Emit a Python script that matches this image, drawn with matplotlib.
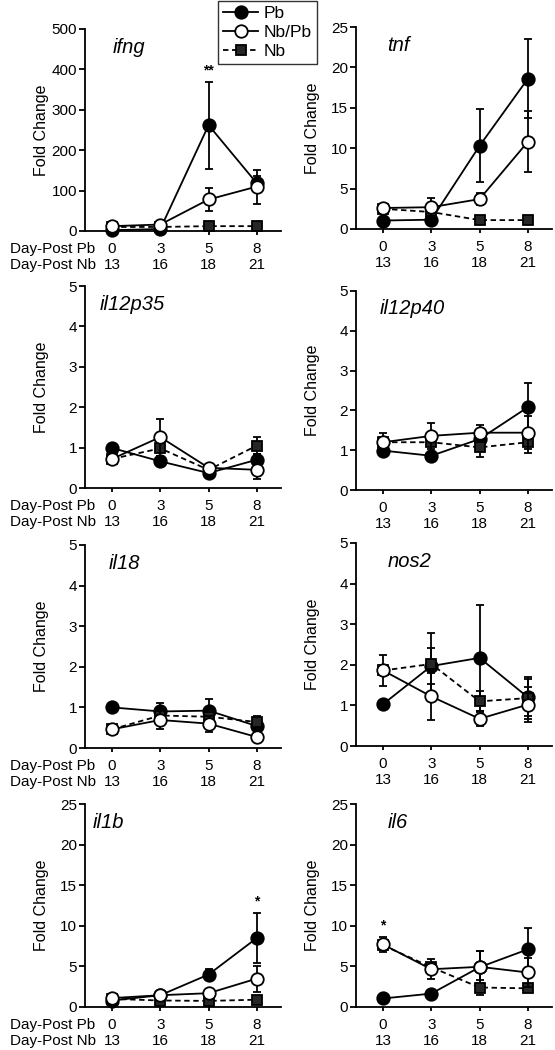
import matplotlib.pyplot as plt
from matplotlib.lines import Line2D

plt.rcParams['font.family'] = ['Liberation Sans', 'DejaVu Sans']

# x categories
days_pb = ['0', '3', '5', '8']
days_nb = ['13', '16', '18', '21']
groups = ['Pb', 'Nb/Pb', 'Nb']
genes = ['ifng', 'tnf', 'il12p35', 'il12p40', 'il18', 'nos2', 'il1b', 'il6']
ymax = [500, 25, 5, 5, 5, 5, 25, 25]

# means / SEM, rows = Pb, Nb/Pb, Nb
ifng_mean = [[2, 5, 262, 118], [12, 16, 78, 110], [10, 10, 12, 12]]
ifng_err = [[1, 2, 108, 18], [3, 3, 29, 42], [2, 2, 3, 3]]
tnf_mean = [[1.05, 1.15, 10.3, 18.6], [2.6, 2.7, 3.7, 10.8], [2.5, 2.1, 1.1, 1.1]]
tnf_err = [[0.2, 0.2, 4.5, 4.9], [0.3, 1.1, 0.7, 3.8], [0.2, 0.3, 0.3, 0.5]]
il12p35_mean = [[0.99, 0.66, 0.37, 0.70], [0.72, 1.26, 0.50, 0.45], [0.72, 0.98, 0.45, 1.05]]
il12p35_err = [[0.05, 0.06, 0.05, 0.15], [0.12, 0.46, 0.10, 0.22], [0.05, 0.08, 0.05, 0.21]]
il12p40_mean = [[0.99, 0.86, 1.28, 2.08], [1.20, 1.36, 1.44, 1.44], [1.20, 1.20, 1.07, 1.20]]
il12p40_err = [[0.05, 0.08, 0.10, 0.62], [0.22, 0.33, 0.20, 0.42], [0.10, 0.10, 0.24, 0.27]]
il18_mean = [[1.0, 0.90, 0.92, 0.54], [0.46, 0.69, 0.60, 0.27], [0.46, 0.80, 0.77, 0.64]]
il18_err = [[0.04, 0.22, 0.28, 0.20], [0.04, 0.23, 0.20, 0.04], [0.04, 0.10, 0.10, 0.15]]
nos2_mean = [[1.03, 1.97, 2.17, 1.20], [1.86, 1.22, 0.67, 1.02], [1.86, 2.02, 1.10, 1.18]]
nos2_err = [[0.04, 0.45, 1.30, 0.45], [0.37, 0.58, 0.17, 0.43], [0.10, 0.76, 0.25, 0.52]]
il1b_mean = [[0.8, 1.45, 4.0, 8.5], [1.1, 1.45, 1.7, 3.5], [1.0, 0.8, 0.75, 0.9]]
il1b_err = [[0.2, 0.2, 0.7, 3.1], [0.3, 0.3, 0.4, 1.6], [0.1, 0.1, 0.1, 0.2]]
il6_mean = [[1.05, 1.65, 4.9, 7.1], [7.7, 4.65, 4.95, 4.25], [7.6, 4.9, 2.4, 2.3]]
il6_err = [[0.2, 0.3, 2.0, 2.6], [0.95, 1.2, 2.0, 1.8], [0.5, 0.4, 0.95, 0.3]]

means = [ifng_mean, tnf_mean, il12p35_mean, il12p40_mean, il18_mean, nos2_mean, il1b_mean, il6_mean]
errs = [ifng_err, tnf_err, il12p35_err, il12p40_err, il18_err, nos2_err, il1b_err, il6_err]

# significance marks: (panel, group, day index, text)
stars = [(0, 0, 2, '**'), (6, 0, 3, '*'), (7, 1, 0, '*')]

W, H = 555, 1050
fig = plt.figure(figsize=(W / 100, H / 100), dpi=100)

col_x = [85, 356]
ax_w = 196
row_px = [(29, 231), (27, 229), (286, 488), (291, 490), (545, 748), (543, 746), (804, 1007), (804, 1007)]
title_x = [0.14, 0.16, 0.075, 0.12, 0.12, 0.16, 0.04, 0.16]

styles = [
    dict(marker='o', mfc='black', ms=9, ls='-', zorder=2),
    dict(marker='o', mfc='white', ms=9, ls='-', zorder=4),
    dict(marker='s', mfc='#262626', ms=7, ls=(0, (3, 2)), zorder=3),
]

xs = list(range(len(days_pb)))
axes = []
for i, gene in enumerate(genes):
    top, bot = row_px[i]
    x0 = col_x[i % 2]
    ax = fig.add_axes([x0 / W, 1 - bot / H, ax_w / W, (bot - top) / H])
    axes.append(ax)
    for g in range(3):
        st = styles[g]
        ax.errorbar(xs, means[i][g], yerr=errs[i][g], color='black', lw=1.3,
                    marker=st['marker'], mfc=st['mfc'], mec='black', mew=1.3,
                    ms=st['ms'], ls=st['ls'], elinewidth=1.3, capsize=2.6,
                    capthick=1.3, zorder=st['zorder'], clip_on=False)
    ax.set_xlim(-0.56, 3.5)
    ax.set_ylim(0, ymax[i])
    ax.set_yticks(range(0, ymax[i] + 1, ymax[i] // 5))
    ax.set_xticks(xs)
    ax.set_xticklabels([a + '\n' + b for a, b in zip(days_pb, days_nb)])
    for s in ['top', 'right']:
        ax.spines[s].set_visible(False)
    for s in ['left', 'bottom']:
        ax.spines[s].set_linewidth(1.3)
    ax.tick_params(axis='x', length=3, width=1.3, pad=5, labelsize=11)
    ax.tick_params(axis='y', length=4, width=1.3, pad=1.8, labelsize=11)
    ax.set_ylabel('Fold Change', fontsize=11.5, va='center')
    ax.yaxis.set_label_coords(-0.22, 0.5)
    ax.text(title_x[i], 0.91, gene, transform=ax.transAxes, style='italic',
            fontsize=14.5, ha='left', va='center')
    if i % 2 == 0:
        ax.annotate('Day-Post Pb\nDay-Post Nb', xy=(0, 0), xycoords='axes fraction',
                    xytext=(-54, -8), textcoords='offset points',
                    ha='left', va='top', fontsize=11)

for p, g, d, txt in stars:
    ax = axes[p]
    ax.annotate(txt, xy=(d, means[p][g][d] + errs[p][g][d]), xytext=(0, 3),
                textcoords='offset points', ha='center', va='bottom',
                fontsize=10, fontweight='bold')

handles = []
for g in range(3):
    st = styles[g]
    handles.append(Line2D([], [], color='black', lw=1.3, marker=st['marker'],
                          mfc=st['mfc'], mec='black', mew=1.3, ms=st['ms'], ls=st['ls']))
leg = fig.legend(handles, groups, loc='upper left', bbox_to_anchor=(218 / W, 1 - 1 / H),
                 fontsize=12.5, frameon=True, fancybox=False, edgecolor='black',
                 handlelength=2.0, handletextpad=0.35, labelspacing=0.2,
                 borderpad=0.3, borderaxespad=0)
leg.get_frame().set_linewidth(1.0)

fig.savefig('out.png', dpi=100)
